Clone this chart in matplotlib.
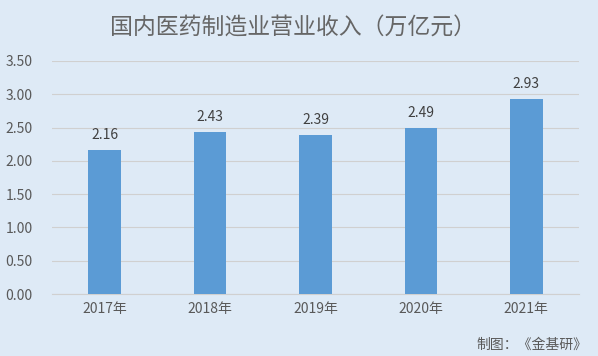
import matplotlib.pyplot as plt

plt.rcParams['font.family'] = ['Noto Sans CJK SC', 'DejaVu Sans']

years = ['2017年', '2018年', '2019年', '2020年', '2021年']
revenue = [2.16, 2.43, 2.39, 2.49, 2.93]
yticks = [0, 0.5, 1.0, 1.5, 2.0, 2.5, 3.0, 3.5]

bg = '#DEEAF6'
fig = plt.figure(figsize=(5.98, 3.56), dpi=100, facecolor=bg)
ax = fig.add_axes([52 / 598, 1 - 294 / 356, (579 - 52) / 598, (294 - 61) / 356])
ax.set_facecolor(bg)

x = range(len(years))
bars = ax.bar(x, revenue, width=0.31, color='#5B9BD5', zorder=3)
for xi, v in zip(x, revenue):
    ax.text(xi, v + 0.12, f'{v:.2f}', ha='center', va='bottom',
            fontsize=10, color='#404040')

ax.set_xlim(-0.5, len(years) - 0.5)
ax.set_ylim(0, 3.5)
ax.set_yticks(yticks)
ax.set_yticklabels([f'{t:.2f}' for t in yticks], fontsize=10, color='#595959')
ax.set_xticks(list(x))
ax.set_xticklabels(years, fontsize=10, color='#595959')
ax.grid(axis='y', color='#D0D0D0', linewidth=0.8, zorder=0)
for s in ['top', 'right', 'left']:
    ax.spines[s].set_visible(False)
ax.spines['bottom'].set_color('#D0D0D0')
ax.tick_params(length=0, pad=6)
ax.tick_params(axis='y', pad=14)

fig.text(293 / 598, 1 - 28 / 356, '国内医药制造业营业收入（万亿元）', ha='center', va='center',
         fontsize=16.5, color='#666666', fontweight='light')
fig.text(587 / 598, 1 - 345 / 356, '制图：《金基研》', ha='right', va='center',
         fontsize=10, color='#595959')

fig.savefig('out.png', dpi=100, facecolor=bg)
